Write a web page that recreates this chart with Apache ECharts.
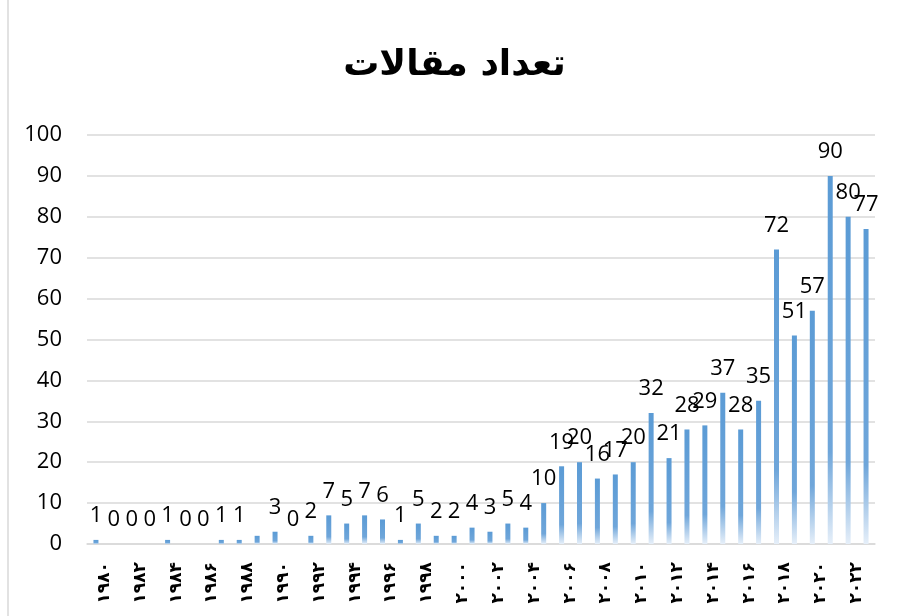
<!DOCTYPE html>
<html>
<head>
<meta charset="utf-8">
<script src="https://cdn.jsdelivr.net/npm/echarts@6/dist/echarts.min.js"></script>
<style>
  html, body { margin: 0; padding: 0; background: #fff; }
  #chart { width: 909px; height: 616px; }
</style>
</head>
<body>
<div id="chart"></div>
<script>
// سال‌ها و تعداد مقالات
const years = [
  1980, 1981, 1982, 1983, 1984, 1985, 1986, 1987, 1988, 1989,
  1990, 1991, 1992, 1993, 1994, 1995, 1996, 1997, 1998, 1999,
  2000, 2001, 2002, 2003, 2004, 2005, 2006, 2007, 2008, 2009,
  2010, 2011, 2012, 2013, 2014, 2015, 2016, 2017, 2018, 2019,
  2020, 2021, 2022, 2023
];
const counts = [
  1, 0, 0, 0, 1, 0, 0, 1, 1, 2,
  3, 0, 2, 7, 5, 7, 6, 1, 5, 2,
  2, 4, 3, 5, 4, 10, 19, 20, 16, 17,
  20, 32, 21, 28, 29, 37, 28, 35, 72, 51,
  57, 90, 80, 77
];
const yTicks = [0, 10, 20, 30, 40, 50, 60, 70, 80, 90, 100];
const hiddenLabelYears = [1989];

const faDigits = '۰۱۲۳۴۵۶۷۸۹';
const toFa = (v) => String(v).replace(/[0-9]/g, (d) => faDigits[+d]);

const barFill = new echarts.graphic.LinearGradient(0, 0, 0, 1, [
  { offset: 0, color: '#5b9bd5' },
  { offset: 0.75, color: '#6fa6da' },
  { offset: 1, color: '#e6eff9' }
]);

const chart = echarts.init(document.getElementById('chart'));
chart.setOption({
  animation: false,
  backgroundColor: '#fff',
  title: {
    text: 'تعداد مقالات',
    left: 'center',
    top: 43,
    textStyle: { fontFamily: 'DejaVu Sans', fontWeight: 'bold', fontSize: 36, color: '#000' }
  },
  graphic: [{
    type: 'line',
    shape: { x1: 8, y1: 0, x2: 8, y2: 616 },
    style: { stroke: '#d9d9d9', lineWidth: 1.5 }
  }],
  grid: { left: 87, right: 34, top: 135, bottom: 72 },
  xAxis: {
    type: 'category',
    data: years,
    axisLine: { lineStyle: { color: '#d9d9d9', width: 1.5 } },
    axisTick: { show: false },
    axisLabel: {
      interval: 1,
      rotate: 90,
      margin: 18,
      verticalAlign: 'top',
      formatter: toFa,
      fontFamily: 'DejaVu Sans',
      fontWeight: 'bold',
      fontSize: 17,
      color: '#000'
    }
  },
  yAxis: {
    type: 'value',
    min: yTicks[0],
    max: yTicks[yTicks.length - 1],
    interval: 10,
    axisLine: { show: false },
    axisTick: { show: false },
    splitLine: { lineStyle: { color: '#d9d9d9', width: 1.5 } },
    axisLabel: { fontFamily: 'Open Sans', fontSize: 22, color: '#000', margin: 25 }
  },
  series: [{
    type: 'bar',
    barWidth: 5,
    data: counts.map((v, i) => ({
      value: v,
      label: { show: !hiddenLabelYears.includes(years[i]) }
    })),
    itemStyle: { color: barFill },
    label: {
      show: true,
      position: 'top',
      distance: 13,
      fontFamily: 'Open Sans',
      fontSize: 22,
      color: '#000'
    }
  }]
});
</script>
</body>
</html>
